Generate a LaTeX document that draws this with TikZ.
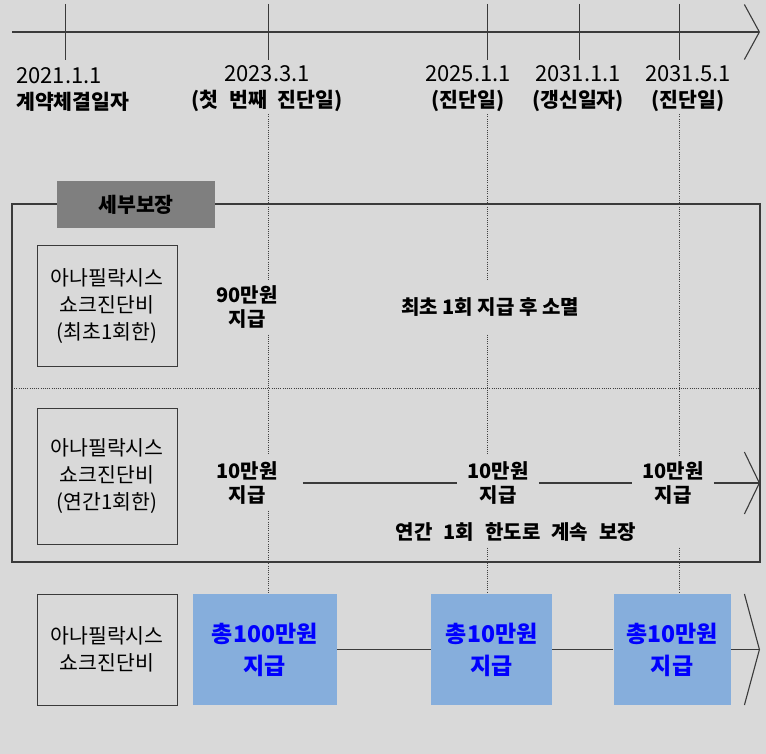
\documentclass[tikz,border=0pt]{standalone}
\usepackage{fontspec}
\setmainfont{Noto Sans CJK KR}
\usepackage{tikz}
\usetikzlibrary{
  arrows.meta,
  positioning,
  calc
}
\definecolor{PaperGray}{HTML}{D9D9D9}
\definecolor{TagGray}{HTML}{7F7F7F}
\definecolor{PayBlue}{HTML}{86AEDC}
\definecolor{PayText}{HTML}{0000FF}
\definecolor{InkGray}{HTML}{3A3A3A}
\newcommand\evtxt[1]{\textbf{\fontsize{20.5}{25}\selectfont #1}}
\tikzset{
  % Axis and flow rule
  axisln/.style={draw=InkGray, line width=1.1pt},
  % Open chevron at the end of a rule
  chev/.style={-{Straight Barb[length=15pt,width=#1pt]}},
  % Tick on the time axis
  tickln/.style={draw=InkGray, line width=1pt},
  % Date caption
  datelbl/.style={align=center, inner sep=2pt, font=\fontsize{22}{26}\selectfont},
  % Wide word gaps
  widesp/.style={execute at begin node={\spaceskip=#1\relax}},
  % Dotted guide line
  guide/.style={draw=black!75, line width=0.8pt, dash pattern=on 1pt off 1.2pt},
  % Item box on the left
  itembox/.style={
    rectangle, draw=InkGray, line width=1pt,
    minimum width=140pt, minimum height=#1,
    align=center, inner sep=0pt, font=\fontsize{20.5}{27}\selectfont
  },
  % Paid amount
  amount/.style={align=center, inner xsep=10pt, inner ysep=6pt,
    font=\bfseries\fontsize{20}{24}\selectfont},
  % Total paid block
  paybox/.style={
    rectangle, fill=PayBlue, text=PayText,
    minimum width=#1, minimum height=111pt,
    align=center, inner sep=0pt, font=\bfseries\fontsize{23}{32}\selectfont
  },
  % Section tag
  tagbox/.style={rectangle, fill=TagGray, minimum width=158pt, minimum height=47pt,
    font=\bfseries\fontsize{20.5}{24}\selectfont},
  % Outer frame of the detail section
  detailframe/.style={draw=InkGray, line width=1.2pt}
}

\begin{document}
\begin{tikzpicture}[x=1pt, y=-1pt]
  \fill[PaperGray] (0,0) rectangle (766,754);
  \useasboundingbox (0,0) rectangle (766,754);

  % Time axis
  \coordinate (ax0) at (12,32);
  \coordinate (ax1) at (760,32);
  \draw[axisln, chev=55] (ax0) -- (ax1);
  \foreach \tx/\nm in {65/t1, 268/t2, 487/t3, 579/t4, 679/t5}{
    \draw[tickln] (\tx,4) -- (\tx,60) coordinate (\nm);
  }

  \node[datelbl, anchor=west, align=left] (d1) at (14,89) {2021.1.1\\\evtxt{계약체결일자}};
  \node[datelbl, widesp=11pt] (d2) at (267,89) {2023.3.1\\\evtxt{(첫 번째 진단일)}};
  \node[datelbl] (d3) at (468,89) {2025.1.1\\\evtxt{(진단일)}};
  \node[datelbl] (d4) at (578,89) {2031.1.1\\\evtxt{(갱신일자)}};
  \node[datelbl] (d5) at (688,89) {2031.5.1\\\evtxt{(진단일)}};

  % Detail section
  \draw[detailframe] (12,204) rectangle (760,562);
  \node[tagbox] (tag) at (136,204.5) {세부보장};
  \draw[guide] (12,388) -- (760,388);

  \node[itembox=120pt] (item1) at (107,306) {아나필락시스\\쇼크진단비\\(최초1회한)};
  \node[itembox=136pt] (item2) at (107,476) {아나필락시스\\쇼크진단비\\(연간1회한)};

  \node[amount] (a90)  at (247,307) {90만원\\지급};
  \node[amount] (once) at (490,307) {최초 1회 지급 후 소멸};

  \node[amount] (b10) at (247,483) {10만원\\지급};
  \node[amount] (c10) at (498,483) {10만원\\지급};
  \node[amount] (e10) at (673,483) {10만원\\지급};
  \node[amount, widesp=11pt] (annual) at (516,532) {연간 1회 한도로 계속 보장};

  \coordinate (r2end) at (760,483);
  \draw[axisln, shorten <=15pt] (b10) -- (c10);
  \draw[axisln] (c10) -- (e10);
  \draw[axisln, chev=62] (e10) -- (r2end);

  % Totals
  \node[itembox=111pt] (item3) at (107,649.5) {아나필락시스\\쇼크진단비};
  \node[paybox=144pt, right=15pt of item3] (pay1) {총100만원\\지급};
  \node[paybox=121pt, right=94pt of pay1]  (pay2) {총10만원\\지급};
  \node[paybox=117pt, right=61pt of pay2]  (pay3) {총10만원\\지급};

  \coordinate (r3end) at (760,649.5);
  \draw[axisln] (pay1) -- (pay2);
  \draw[axisln] (pay2) -- (pay3);
  \draw[axisln, chev=111] (pay3) -- (r3end);

  % Dotted guides from the dates
  \draw[guide] (t2 |- d2.south)     -- (t2 |- a90.north);
  \draw[guide] (t2 |- a90.south)    -- (t2 |- b10.north);
  \draw[guide] (t2 |- b10.south)    -- (t2 |- pay1.north);
  \draw[guide] (t3 |- d3.south)     -- (t3 |- a90.north);
  \draw[guide] (t3 |- a90.south)    -- (t3 |- c10.north);
  \draw[guide] (t3 |- annual.south) -- (t3 |- pay2.north);
  \draw[guide] (t5 |- d5.south)     -- (t5 |- e10.north);
  \draw[guide] (t5 |- annual.south) -- (t5 |- pay3.north);
\end{tikzpicture}
\end{document}
